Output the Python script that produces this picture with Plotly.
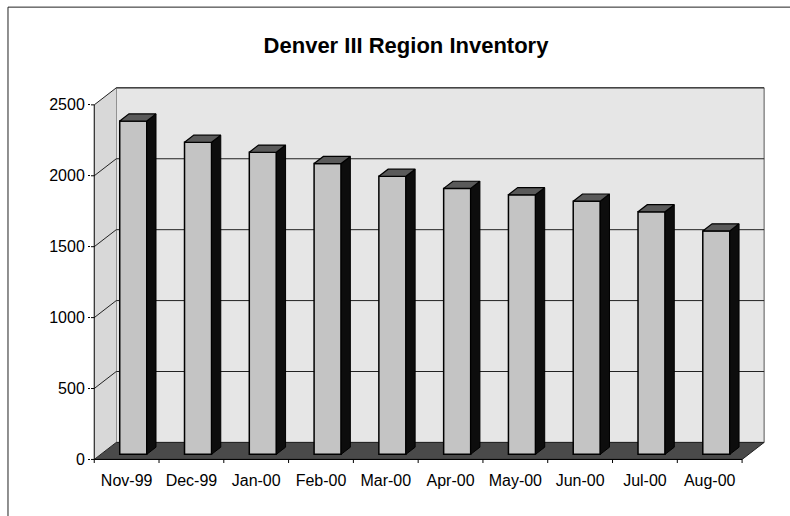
import plotly.graph_objects as go

# ---- data ----
categories = ["Nov-99", "Dec-99", "Jan-00", "Feb-00", "Mar-00",
              "Apr-00", "May-00", "Jun-00", "Jul-00", "Aug-00"]
inventory = [2350, 2200, 2130, 2050, 1960, 1875, 1830, 1785, 1710, 1575]
y_ticks = [0, 500, 1000, 1500, 2000, 2500]
title_text = "Denver III Region Inventory"

# ---- 3D look parameters (in axis units) ----
DX = 0.34      # depth offset along x
DY = 120       # depth offset along y
F1 = 0.30      # bar front plane depth fraction
FD = 0.42      # bar depth fraction
BW = 0.417     # bar width
YMAX = y_ticks[-1]
N = len(categories)

fig = go.Figure()

shapes = []
# back wall
shapes.append(dict(type="rect", xref="x", yref="y", x0=DX, x1=N + DX, y0=DY, y1=YMAX + DY,
                   fillcolor="#e6e6e6", line=dict(color="#555555", width=1), layer="below"))
# left wall
shapes.append(dict(type="path", xref="x", yref="y",
                   path=f"M 0 0 L 0 {YMAX} L {DX} {YMAX + DY} L {DX} {DY} Z",
                   fillcolor="#d8d8d8", line=dict(width=0), layer="below"))
# floor
shapes.append(dict(type="path", xref="x", yref="y",
                   path=f"M 0 0 L {N} 0 L {N + DX} {DY} L {DX} {DY} Z",
                   fillcolor="#4a4a4a", line=dict(color="#222222", width=1), layer="below"))
# gridlines
for v in y_ticks[1:]:
    shapes.append(dict(type="path", xref="x", yref="y",
                       path=f"M 0 {v} L {DX} {v + DY} L {N + DX} {v + DY}",
                       line=dict(color="#222222", width=1), layer="below"))
# front axis lines
shapes.append(dict(type="line", xref="x", yref="y", x0=0, x1=0, y0=0, y1=YMAX,
                   line=dict(color="black", width=1), layer="above"))
shapes.append(dict(type="line", xref="x", yref="y", x0=0, x1=N, y0=0, y1=0,
                   line=dict(color="black", width=1), layer="above"))
# tick marks
for v in y_ticks:
    shapes.append(dict(type="line", xref="x", yref="y", x0=-0.05, x1=0, y0=v, y1=v,
                       line=dict(color="black", width=1), layer="above"))
for i in range(N + 1):
    shapes.append(dict(type="line", xref="x", yref="y", x0=i, x1=i, y0=-25, y1=0,
                       line=dict(color="black", width=1), layer="above"))
# outer chart border
shapes.append(dict(type="line", xref="paper", yref="paper", x0=-0.1226, x1=1.1, y0=1.206, y1=1.206,
                   line=dict(color="#222222", width=1)))
shapes.append(dict(type="line", xref="paper", yref="paper", x0=-0.1226, x1=-0.1226, y0=-0.5, y1=1.206,
                   line=dict(color="#222222", width=1)))

# bar front faces
xc = [i + 0.5 + F1 * DX for i in range(N)]
fig.add_trace(go.Bar(x=xc, y=inventory, base=F1 * DY, width=BW,
                     marker=dict(color="#c4c4c4", line=dict(color="black", width=1.5)),
                     hoverinfo="skip"))

# side and top faces
sx, sy, tx, ty = [], [], [], []
for x, v in zip(xc, inventory):
    xl, xr = x - BW / 2, x + BW / 2
    b = F1 * DY
    t = b + v
    dx, dy = FD * DX, FD * DY
    sx += [xr, xr, xr + dx, xr + dx, xr, None]
    sy += [b, t, t + dy, b + dy, b, None]
    tx += [xl, xr, xr + dx, xl + dx, xl, None]
    ty += [t, t, t + dy, t + dy, t, None]

fig.add_trace(go.Scatter(x=sx, y=sy, mode="lines", fill="toself", fillcolor="#0d0d0d",
                         line=dict(color="black", width=1), hoverinfo="skip"))
fig.add_trace(go.Scatter(x=tx, y=ty, mode="lines", fill="toself", fillcolor="#5a5a5a",
                         line=dict(color="black", width=1.2), hoverinfo="skip"))

fig.update_layout(
    width=790, height=516,
    margin=dict(l=91, r=22, t=85, b=53),
    paper_bgcolor="white", plot_bgcolor="white",
    showlegend=False,
    shapes=shapes,
    title=dict(text=title_text, x=406 / 790, xanchor="center", xref="container",
               yref="container", y=1 - 45 / 516, yanchor="middle",
               font=dict(family="Liberation Sans", size=22, color="black", weight="bold")),
    font=dict(family="Liberation Sans", size=16, color="black"),
    xaxis=dict(range=[-0.05, N + 0.40], tickvals=[i + 0.5 for i in range(N)], ticktext=categories,
               showgrid=False, zeroline=False, showline=False, ticks="",
               tickfont=dict(size=16), ticklabelstandoff=6),
    yaxis=dict(range=[-25, YMAX + 140], tickvals=y_ticks, showgrid=False, zeroline=False,
               showline=False, ticks="outside", ticklen=2, tickcolor="black",
               tickfont=dict(size=16)),
)

fig.write_html("out.html")
